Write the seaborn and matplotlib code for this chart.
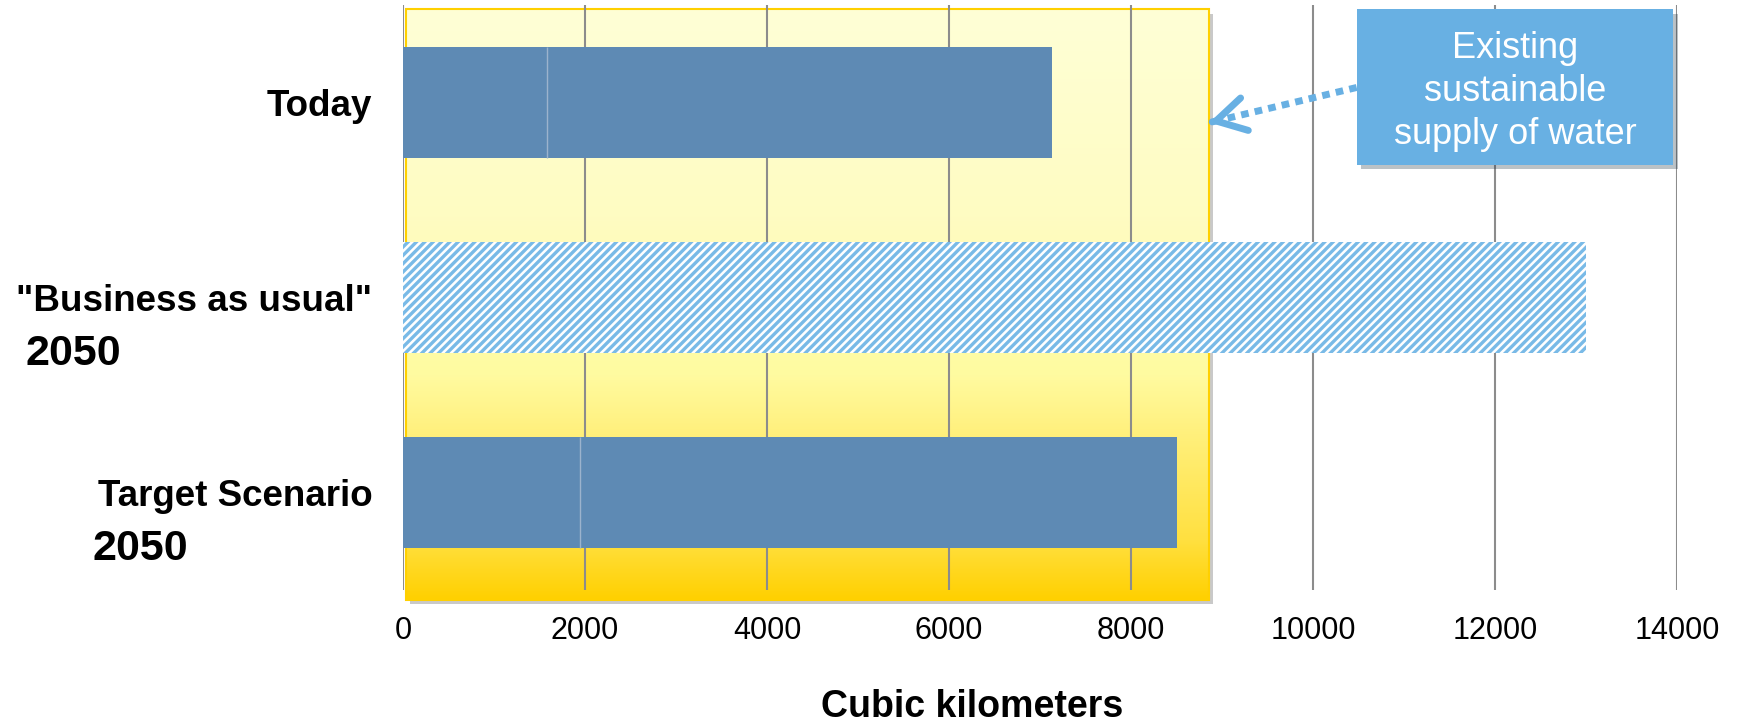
import numpy as np
import pandas as pd
import seaborn as sns
import matplotlib.pyplot as plt
from matplotlib.colors import LinearSegmentedColormap
from matplotlib.patches import Rectangle
from matplotlib import patheffects as pe
from matplotlib.transforms import blended_transform_factory

# data (cubic kilometers)
scenarios = ["Today", '"Business as usual"', "Target Scenario"]
sub_labels = ["", "2050", "2050"]
first_part = [1580, 0, 1950]
totals = [7130, 13000, 8510]
sustainable_supply = 8860
x_ticks = [0, 2000, 4000, 6000, 8000, 10000, 12000, 14000]
callout_text = "Existing\nsustainable\nsupply of water"

bar_color = "#5E8AB4"
hatch_color = "#79BAE7"
callout_color = "#68B0E3"

sns.set_style("white")
plt.rcParams["font.family"] = ["Liberation Sans", "DejaVu Sans"]
plt.rcParams["hatch.linewidth"] = 2.4
for key in ["text.color", "axes.labelcolor", "xtick.color", "ytick.color"]:
    plt.rcParams[key] = "black"

fig = plt.figure(figsize=(17.37, 7.22), dpi=100)
ax = fig.add_axes([403 / 1737, 1 - 590 / 722, 1274 / 1737, 585 / 722])
ax.set_facecolor("none")

df = pd.DataFrame({"scenario": scenarios, "total": totals, "first": first_part})

bar_w = 0.57
sns.barplot(data=df, x="total", y="scenario", orient="h", color=bar_color,
            saturation=1, width=bar_w, linewidth=0, ax=ax, zorder=3)

# business-as-usual bar is hatched
bau = ax.patches[1]
bau.set_facecolor("white")
bau.set_edgecolor(hatch_color)
bau.set_hatch("////")

# thin split between the two stacked parts
for i, s in enumerate(first_part):
    if s > 0:
        ax.vlines(s, i - bar_w / 2, i + bar_w / 2, color="#9CB3CD", lw=1, zorder=4)

# yellow gradient block = sustainable supply
rect_top, rect_bot = -0.477, 2.55
grad_cmap = LinearSegmentedColormap.from_list(
    "supply", [(0, "#FFFFD6"), (0.35, "#FEFCC2"), (0.62, "#FFFBA0"),
               (0.72, "#FFF07C"), (0.9, "#FFE040"), (1, "#FFD000")])
grad = np.linspace(0, 1, 256).reshape(-1, 1)
shadow = Rectangle((30, rect_top), sustainable_supply - 30, rect_bot - rect_top,
                   facecolor="white", edgecolor="none", zorder=-1, clip_on=False,
                   path_effects=[pe.SimplePatchShadow(offset=(3, -3), alpha=0.3), pe.Normal()])
ax.add_patch(shadow)
img = ax.imshow(grad, cmap=grad_cmap, extent=(30, sustainable_supply, rect_bot, rect_top),
                aspect="auto", zorder=0, interpolation="bilinear")
img.set_clip_on(False)
ax.add_patch(Rectangle((30, rect_top), sustainable_supply - 30, rect_bot - rect_top,
                       facecolor="none", edgecolor="#FFD000", lw=1.5, zorder=0.8, clip_on=False))

ax.set_xlim(0, 14000)
ax.set_ylim(2.5, -0.5)
ax.set_axisbelow("line")
ax.grid(axis="x", color="#8C8C8C", lw=1.5)
ax.grid(axis="y", visible=False)
for sp in ax.spines.values():
    sp.set_visible(False)

ax.set_xticks(x_ticks)
ax.set_xticklabels([str(t) for t in x_ticks], fontsize=22)
ax.tick_params(axis="x", length=0, pad=19)
ax.set_yticks(range(len(scenarios)))
ax.set_yticklabels(scenarios, fontsize=26.5, fontweight="bold")
ax.tick_params(axis="y", length=0, pad=22)
ax.set_ylabel("")

# second line of the scenario labels
sub_x = [0, -0.2960, -0.2440]
tr = blended_transform_factory(ax.transAxes, ax.transData)
for i, lab in enumerate(sub_labels):
    if lab:
        ax.text(sub_x[i], i + 0.29, lab, transform=tr, ha="left", va="center",
                fontsize=31, fontweight="bold")

ax.set_xlabel("Cubic kilometers", fontsize=27, fontweight="bold")
ax.xaxis.label.set_va("center")
ax.xaxis.set_label_coords(0.4466, -0.200)

# callout box
box_x0, box_x1 = 10480, 13960
box_y0, box_y1 = -0.477, 0.318
ax.add_patch(Rectangle((box_x0, box_y0), box_x1 - box_x0, box_y1 - box_y0,
                       facecolor=callout_color, edgecolor="none", zorder=5, clip_on=False,
                       path_effects=[pe.SimplePatchShadow(offset=(3, -3), alpha=0.3), pe.Normal()]))
ax.text((box_x0 + box_x1) / 2, -0.057, callout_text, color="white", fontsize=26,
        ha="center", va="center", multialignment="center", linespacing=1.3, zorder=6)

# dotted arrow from the callout to the supply block
start = np.array([box_x0, -0.077])
tip = np.array([sustainable_supply, 0.103])
near_tip = tip + 0.07 * (start - tip)
ax.plot([start[0], near_tip[0]], [start[1], near_tip[1]], color=callout_color,
        lw=5, dashes=(1.1, 0.9), dash_capstyle="butt", zorder=6, clip_on=False)
ax.annotate("", xy=tip, xytext=tip + 0.02 * (start - tip),
            arrowprops=dict(arrowstyle="->,head_length=1.05,head_width=0.6", linewidth=5,
                            color=callout_color, mutation_scale=20, shrinkA=0, shrinkB=0,
                            capstyle="round", joinstyle="round"),
            zorder=6, annotation_clip=False)

fig.savefig("out.png", dpi=100, facecolor="white")
